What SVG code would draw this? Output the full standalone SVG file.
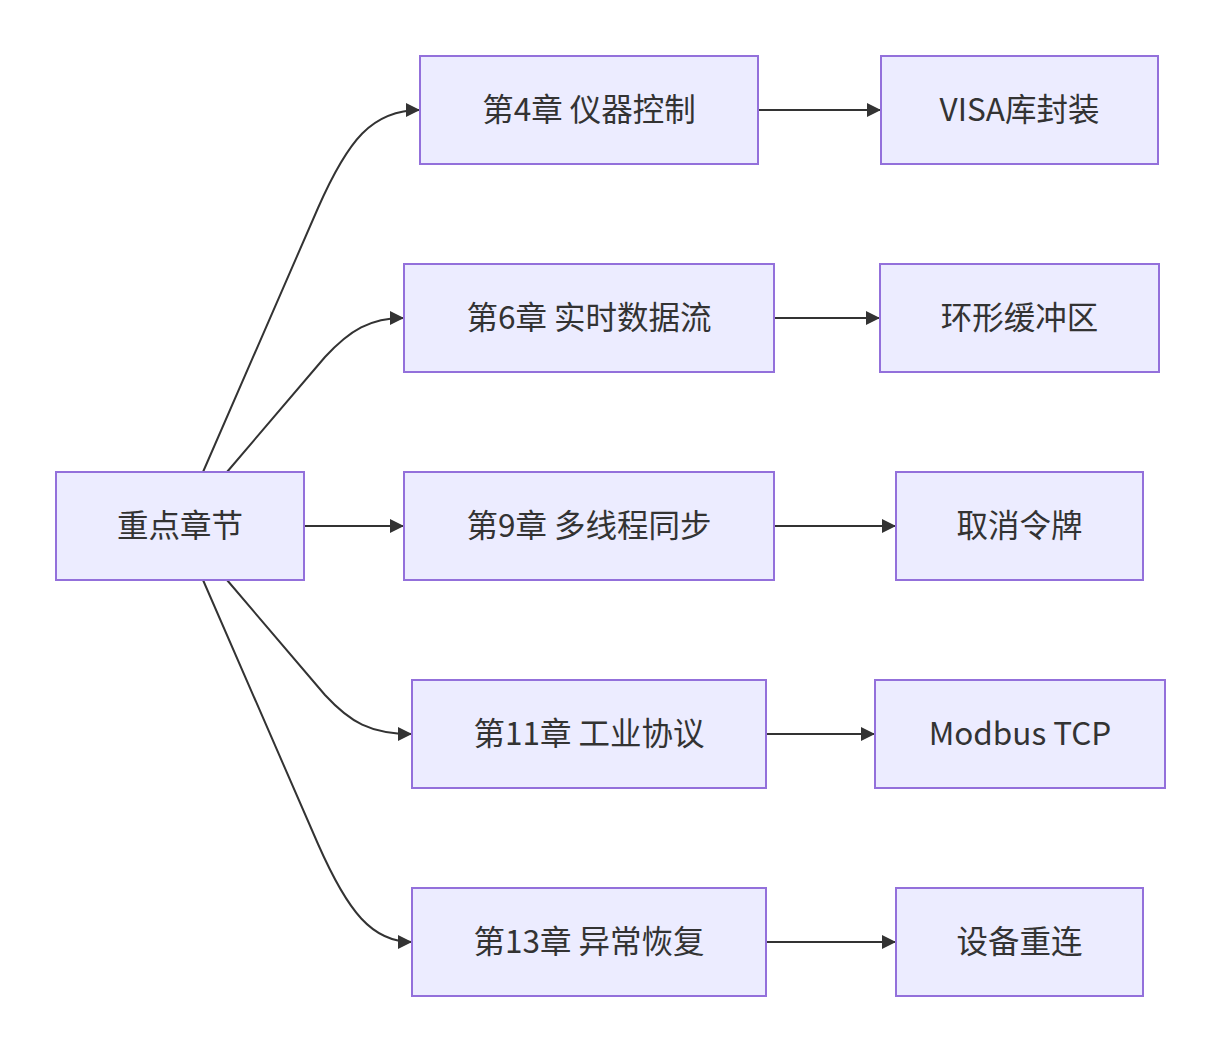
<svg xmlns="http://www.w3.org/2000/svg" width="1221" height="1052" viewBox="0 0 1221 1052">
<style>
.node rect{fill:#ECECFF;stroke:#9370DB;stroke-width:2}
.node text{fill:#333;font-family:"Noto Sans CJK SC","Noto Sans",sans-serif;font-size:31.5px;text-anchor:middle;dominant-baseline:central}
.edges path{fill:none;stroke:#333;stroke-width:2;marker-end:url(#arr)}
</style>
<defs>
<marker id="arr" markerUnits="userSpaceOnUse" markerWidth="14" markerHeight="14" viewBox="0 0 10 10" refX="10" refY="5" orient="auto">
<path d="M0,0 L10,5 L0,10 z" fill="#333"/>
</marker>
</defs>
<rect width="1221" height="1052" fill="#fff"/>
<g class="edges">
<path d="M203,472 L318,208 C348,140 372,110 420,110"/>
<path d="M227,472 L325,357 C350,330 370,318 404,318"/>
<path d="M304,526 L404,526"/>
<path d="M227,580 L325,695 C350,722 370,734 412,734"/>
<path d="M203,580 L318,844 C348,912 372,942 412,942"/>
<path d="M758,110 L881,110"/>
<path d="M774,318 L880,318"/>
<path d="M774,526 L896,526"/>
<path d="M766,734 L875,734"/>
<path d="M766,942 L896,942"/>
</g>
<g id="root" class="node"><rect x="56" y="472" width="248" height="108"/><text x="180" y="523">重点章节</text></g>
<g id="ch4" class="node"><rect x="420" y="56" width="338" height="108"/><text x="589" y="107">第4章 仪器控制</text></g>
<g id="visa" class="node"><rect x="881" y="56" width="277" height="108"/><text x="1019.5" y="107">VISA库封装</text></g>
<g id="ch6" class="node"><rect x="404" y="264" width="370" height="108"/><text x="589" y="315">第6章 实时数据流</text></g>
<g id="ring" class="node"><rect x="880" y="264" width="279" height="108"/><text x="1019.5" y="315">环形缓冲区</text></g>
<g id="ch9" class="node"><rect x="404" y="472" width="370" height="108"/><text x="589" y="523">第9章 多线程同步</text></g>
<g id="cancel" class="node"><rect x="896" y="472" width="247" height="108"/><text x="1019.5" y="523">取消令牌</text></g>
<g id="ch11" class="node"><rect x="412" y="680" width="354" height="108"/><text x="589" y="731">第11章 工业协议</text></g>
<g id="modbus" class="node"><rect x="875" y="680" width="290" height="108"/><text x="1020" y="731">Modbus TCP</text></g>
<g id="ch13" class="node"><rect x="412" y="888" width="354" height="108"/><text x="589" y="939">第13章 异常恢复</text></g>
<g id="reconn" class="node"><rect x="896" y="888" width="247" height="108"/><text x="1019.5" y="939">设备重连</text></g>
</svg>
